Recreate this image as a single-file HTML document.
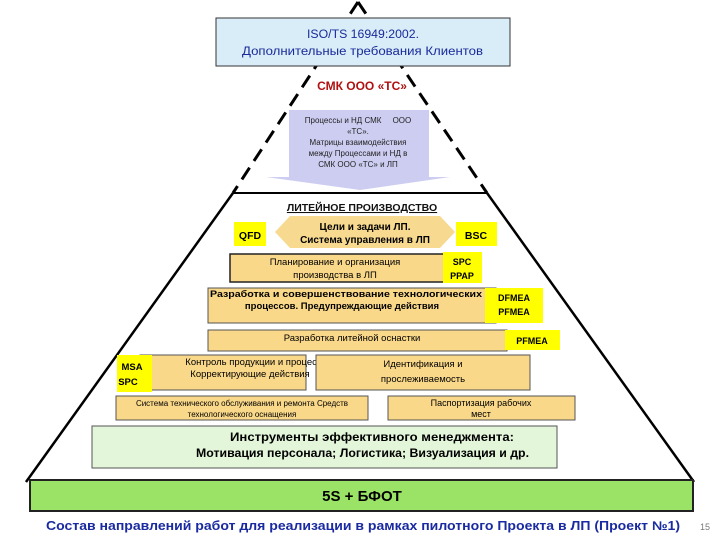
<!DOCTYPE html>
<html><head><meta charset="utf-8"><style>
body{margin:0;background:#fff;}
svg{display:block;font-family:"Liberation Sans",sans-serif;}
</style></head><body>
<svg width="720" height="540" viewBox="0 0 720 540">
<line x1="358" y1="2" x2="233" y2="193" stroke="#000" stroke-width="3" stroke-dasharray="14,8"/>
<line x1="358" y1="2" x2="487" y2="193" stroke="#000" stroke-width="3" stroke-dasharray="14,8"/>
<line x1="233" y1="193" x2="487" y2="193" stroke="#000" stroke-width="2"/>
<line x1="233" y1="193" x2="26" y2="482" stroke="#000" stroke-width="2.5"/>
<line x1="487" y1="193" x2="694" y2="482" stroke="#000" stroke-width="2.5"/>
<rect x="216" y="18" width="294" height="48" fill="#d8edf8" stroke="#333" stroke-width="1"/>
<text x="307" y="38" font-size="11.5" fill="#1a2a9a" textLength="112" lengthAdjust="spacingAndGlyphs">ISO/TS 16949:2002.</text>
<text x="242" y="55" font-size="11.5" fill="#1a2a9a" textLength="241" lengthAdjust="spacingAndGlyphs">Дополнительные требования Клиентов</text>
<text x="362" y="90" font-size="12" font-weight="bold" fill="#b01010" text-anchor="middle">СМК ООО «ТС»</text>
<polygon points="289,110 429,110 429,177 450,177 360,190 266,177 289,177" fill="#cdcdf2"/>
<g font-size="8" fill="#222" text-anchor="middle">
<text x="358" y="123">Процессы и НД СМК&#160;&#160;&#160;&#160;&#160;ООО</text>
<text x="358" y="134">«ТС».</text>
<text x="358" y="145">Матрицы взаимодействия</text>
<text x="358" y="156">между Процессами и НД в</text>
<text x="358" y="167">СМК ООО «ТС» и ЛП</text>
</g>
<text x="362" y="211" font-size="10.5" font-weight="bold" fill="#111" text-anchor="middle" text-decoration="underline">ЛИТЕЙНОЕ ПРОИЗВОДСТВО</text>
<polygon points="275,232 290,216 440,216 455,232 440,248 290,248" fill="#f7d98f"/>
<rect x="234" y="222" width="32" height="24" fill="#ffff00"/>
<text x="250" y="239" font-size="10.5" font-weight="bold" text-anchor="middle">QFD</text>
<rect x="456" y="222" width="41" height="24" fill="#ffff00"/>
<text x="476" y="239" font-size="10.5" font-weight="bold" text-anchor="middle">BSC</text>
<text x="365" y="230" font-size="10" font-weight="bold" text-anchor="middle">Цели и задачи ЛП.</text>
<text x="365" y="243" font-size="10" font-weight="bold" text-anchor="middle">Система управления в ЛП</text>
<rect x="230" y="254" width="214" height="28" fill="#fad889" stroke="#222" stroke-width="1.5"/>
<text x="335" y="265" font-size="9.5" text-anchor="middle">Планирование и организация</text>
<text x="335" y="278" font-size="9.5" text-anchor="middle">производства в ЛП</text>
<rect x="443" y="252" width="39" height="31" fill="#ffff00"/>
<text x="462" y="265" font-size="9" font-weight="bold" text-anchor="middle">SPC</text>
<text x="462" y="279" font-size="9" font-weight="bold" text-anchor="middle">PPAP</text>
<rect x="208" y="288" width="288" height="35" fill="#fad889" stroke="#555" stroke-width="1"/>
<text x="210" y="297" font-size="9.5" font-weight="bold" textLength="272" lengthAdjust="spacingAndGlyphs">Разработка и совершенствование технологических</text>
<text x="342" y="309" font-size="9.5" font-weight="bold" text-anchor="middle">процессов. Предупреждающие действия</text>
<rect x="485" y="288" width="58" height="35" fill="#ffff00"/>
<text x="514" y="301" font-size="9" font-weight="bold" text-anchor="middle">DFMEA</text>
<text x="514" y="315" font-size="9" font-weight="bold" text-anchor="middle">PFMEA</text>
<rect x="208" y="330" width="299" height="21" fill="#fad889" stroke="#555" stroke-width="1"/>
<text x="352" y="341" font-size="9.5" text-anchor="middle">Разработка литейной оснастки</text>
<rect x="505" y="330" width="55" height="20" fill="#ffff00"/>
<text x="532" y="344" font-size="9" font-weight="bold" text-anchor="middle">PFMEA</text>
<rect x="140" y="355" width="166" height="35" fill="#fad889" stroke="#555" stroke-width="1"/>
<text x="260" y="365" font-size="9.5" text-anchor="middle">Контроль продукции и процессов.</text>
<text x="250" y="377" font-size="9.5" text-anchor="middle">Корректирующие действия</text>
<rect x="117" y="355" width="35" height="37" fill="#ffff00"/>
<text x="132" y="370" font-size="9.5" font-weight="bold" text-anchor="middle">MSA</text>
<text x="128" y="385" font-size="9.5" font-weight="bold" text-anchor="middle">SPC</text>
<rect x="316" y="355" width="214" height="35" fill="#fad889" stroke="#555" stroke-width="1"/>
<text x="423" y="367" font-size="9.5" text-anchor="middle">Идентификация и</text>
<text x="423" y="382" font-size="9.5" text-anchor="middle">прослеживаемость</text>
<rect x="116" y="396" width="252" height="24" fill="#fad889" stroke="#555" stroke-width="1"/>
<text x="242" y="406" font-size="8" text-anchor="middle">Система технического обслуживания и ремонта Средств</text>
<text x="242" y="417" font-size="8" text-anchor="middle">технологического оснащения</text>
<rect x="388" y="396" width="187" height="24" fill="#fad889" stroke="#555" stroke-width="1"/>
<text x="481" y="406" font-size="9" text-anchor="middle">Паспортизация рабочих</text>
<text x="481" y="417" font-size="9" text-anchor="middle">мест</text>
<rect x="92" y="426" width="465" height="42" fill="#e4f6da" stroke="#555" stroke-width="1"/>
<text x="230" y="441" font-size="11.5" font-weight="bold" textLength="284" lengthAdjust="spacingAndGlyphs">Инструменты эффективного менеджмента:</text>
<text x="196" y="457" font-size="11.5" font-weight="bold" textLength="333" lengthAdjust="spacingAndGlyphs">Мотивация персонала; Логистика;  Визуализация и др.</text>
<rect x="30" y="480" width="663" height="31" fill="#9ae366" stroke="#222" stroke-width="2"/>
<text x="362" y="501" font-size="15" font-weight="bold" text-anchor="middle">5S + БФОТ</text>
<text x="46" y="530" font-size="12.5" font-weight="bold" fill="#1a2aa0" textLength="634" lengthAdjust="spacingAndGlyphs">Состав направлений работ для реализации в рамках пилотного Проекта в ЛП (Проект №1)</text>
<text x="705" y="530" font-size="9" fill="#777" text-anchor="middle">15</text>
</svg>
</body></html>
